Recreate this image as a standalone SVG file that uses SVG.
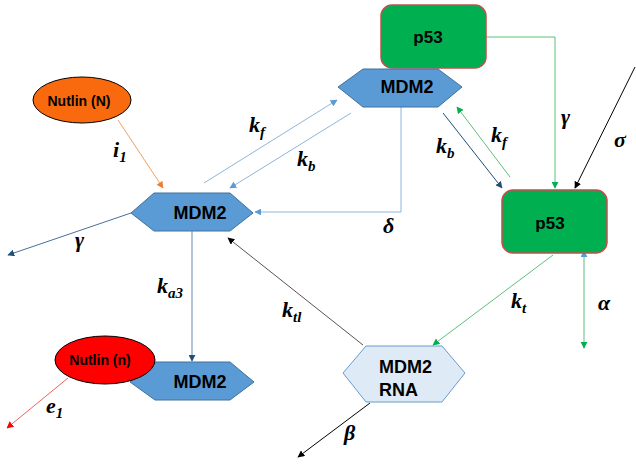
<svg xmlns="http://www.w3.org/2000/svg" width="636" height="464" viewBox="0 0 636 464">
<style>
.lbl{font-family:"Liberation Serif",serif;font-style:italic;font-weight:bold;font-size:22px;fill:#000}
.sub{font-size:15px}
.nt{font-family:"Liberation Sans",Arial,sans-serif;font-weight:bold;fill:#000;text-anchor:middle}
.ls{text-anchor:start}
.hex{fill:#5b9bd5;stroke:#41719c;stroke-width:1}
.p53{fill:#00b050;stroke:#c0504d;stroke-width:1.5}
.c{fill:none;stroke-width:1}
</style>
<defs>
<marker id="mG" viewBox="0 0 10 10" refX="9" refY="5" markerWidth="7" markerHeight="7" orient="auto" markerUnits="userSpaceOnUse"><path d="M0,0L10,5L0,10z" fill="#00b050"/></marker>
<marker id="mLB" viewBox="0 0 10 10" refX="9" refY="5" markerWidth="7" markerHeight="7" orient="auto" markerUnits="userSpaceOnUse"><path d="M0,0L10,5L0,10z" fill="#5b9bd5"/></marker>
<marker id="mDB" viewBox="0 0 10 10" refX="9" refY="5" markerWidth="7" markerHeight="7" orient="auto" markerUnits="userSpaceOnUse"><path d="M0,0L10,5L0,10z" fill="#1f4e79"/></marker>
<marker id="mK" viewBox="0 0 10 10" refX="9" refY="5" markerWidth="7" markerHeight="7" orient="auto" markerUnits="userSpaceOnUse"><path d="M0,0L10,5L0,10z" fill="#000"/></marker>
<marker id="mO" viewBox="0 0 10 10" refX="9" refY="5" markerWidth="7" markerHeight="7" orient="auto" markerUnits="userSpaceOnUse"><path d="M0,0L10,5L0,10z" fill="#ed7d31"/></marker>
<marker id="mR" viewBox="0 0 10 10" refX="9" refY="5" markerWidth="7" markerHeight="7" orient="auto" markerUnits="userSpaceOnUse"><path d="M0,0L10,5L0,10z" fill="#ff0000"/></marker>
<marker id="mLBs" viewBox="0 0 10 10" refX="1" refY="5" markerWidth="7" markerHeight="7" orient="auto" markerUnits="userSpaceOnUse"><path d="M10,0L0,5L10,10z" fill="#5b9bd5"/></marker>
</defs>
<rect width="636" height="464" fill="#fff"/>
<g id="connectors">
<polyline class="c" points="486,37 555,37 555,188" stroke="#5cc07a" marker-end="url(#mG)"/>
<line class="c" x1="635" y1="67" x2="575" y2="188" stroke="#000" marker-end="url(#mK)"/>
<line class="c" x1="443" y1="113" x2="502" y2="188" stroke="#1f4e79" marker-end="url(#mDB)"/>
<line class="c" x1="510" y1="177" x2="457" y2="107" stroke="#5cc07a" marker-end="url(#mG)"/>
<polyline class="c" points="401,107 401,212 255,212" stroke="#8fb4dc" marker-end="url(#mLB)"/>
<line class="c" x1="204" y1="183" x2="337" y2="100" stroke="#8fb4dc" marker-end="url(#mLB)"/>
<line class="c" x1="351" y1="113" x2="230" y2="188" stroke="#8fb4dc" marker-end="url(#mLB)"/>
<line class="c" x1="118" y1="120" x2="163" y2="188" stroke="#f0a060" marker-end="url(#mO)"/>
<line class="c" x1="131" y1="213" x2="8" y2="255" stroke="#4a6f95" marker-end="url(#mDB)"/>
<line class="c" x1="192" y1="231" x2="192" y2="361" stroke="#6a8cb0" marker-end="url(#mDB)"/>
<line class="c" x1="68" y1="378" x2="7" y2="428" stroke="#f06060" marker-end="url(#mR)"/>
<line class="c" x1="363" y1="345" x2="228" y2="238" stroke="#555" marker-end="url(#mK)"/>
<line class="c" x1="553" y1="255" x2="433" y2="345" stroke="#5cc07a" marker-end="url(#mG)"/>
<line class="c" x1="584" y1="251" x2="584" y2="348" stroke="#5cc07a" marker-start="url(#mLBs)" marker-end="url(#mG)"/>
<line class="c" x1="370" y1="403" x2="298" y2="457" stroke="#000" marker-end="url(#mK)"/>
</g>
<g id="p53-top">
<rect class="p53" x="381" y="5" width="105" height="63" rx="11"/>
<text class="nt" x="428" y="43" font-size="17">p53</text>
</g>
<g id="mdm2-top">
<polygon class="hex" points="338,87 363,69 438,69 462,87 438,107 363,107"/>
<text class="nt" x="407" y="93" font-size="18">MDM2</text>
</g>
<g id="p53-bottom">
<rect class="p53" x="502" y="190" width="105" height="63" rx="11"/>
<text class="nt" x="550" y="229" font-size="17">p53</text>
</g>
<g id="nutlin-N">
<ellipse cx="82" cy="100" rx="49" ry="23" fill="#f96a0e" stroke="#000" stroke-width="1"/>
<text class="nt" x="79" y="106" font-size="14">Nutlin (N)</text>
</g>
<g id="mdm2-left">
<polygon class="hex" points="131,213 154,193 230,193 253,213 230,231 154,231"/>
<text class="nt" x="200" y="219" font-size="18">MDM2</text>
</g>
<g id="mdm2-bottom">
<polygon class="hex" points="130,382 155,362 230,362 254,382 230,400 155,400"/>
<text class="nt" x="200" y="388" font-size="18">MDM2</text>
</g>
<g id="nutlin-n">
<ellipse cx="105" cy="360" rx="50" ry="24" fill="#ff0000" stroke="#000" stroke-width="1"/>
<text class="nt" x="100" y="365" font-size="14">Nutlin (n)</text>
</g>
<g id="mdm2-rna">
<polygon points="343,373 366,346 442,346 465,373 442,402 366,402" fill="#deebf7" stroke="#6a9bd0" stroke-width="1"/>
<text class="nt ls" x="379" y="373" font-size="18">MDM2</text>
<text class="nt ls" x="379" y="396" font-size="18">RNA</text>
</g>
<g id="labels">
<text class="lbl" x="561" y="124">γ</text>
<text class="lbl" x="614" y="147">σ</text>
<text class="lbl" x="436" y="153">k<tspan class="sub" dy="5">b</tspan></text>
<text class="lbl" x="491" y="142">k<tspan class="sub" dy="5">f</tspan></text>
<text class="lbl" x="249" y="132">k<tspan class="sub" dy="5">f</tspan></text>
<text class="lbl" x="297" y="166">k<tspan class="sub" dy="5">b</tspan></text>
<text class="lbl" x="113" y="157">i<tspan class="sub" dy="5">1</tspan></text>
<text class="lbl" x="75" y="247">γ</text>
<text class="lbl" x="383" y="233">δ</text>
<text class="lbl" x="157" y="293">k<tspan class="sub" dy="5">a3</tspan></text>
<text class="lbl" x="282" y="317">k<tspan class="sub" dy="5">tl</tspan></text>
<text class="lbl" x="46" y="413">e<tspan class="sub" dy="5">1</tspan></text>
<text class="lbl" x="511" y="308">k<tspan class="sub" dy="5">t</tspan></text>
<text class="lbl" x="598" y="310">α</text>
<text class="lbl" x="344" y="440">β</text>
</g>
</svg>
